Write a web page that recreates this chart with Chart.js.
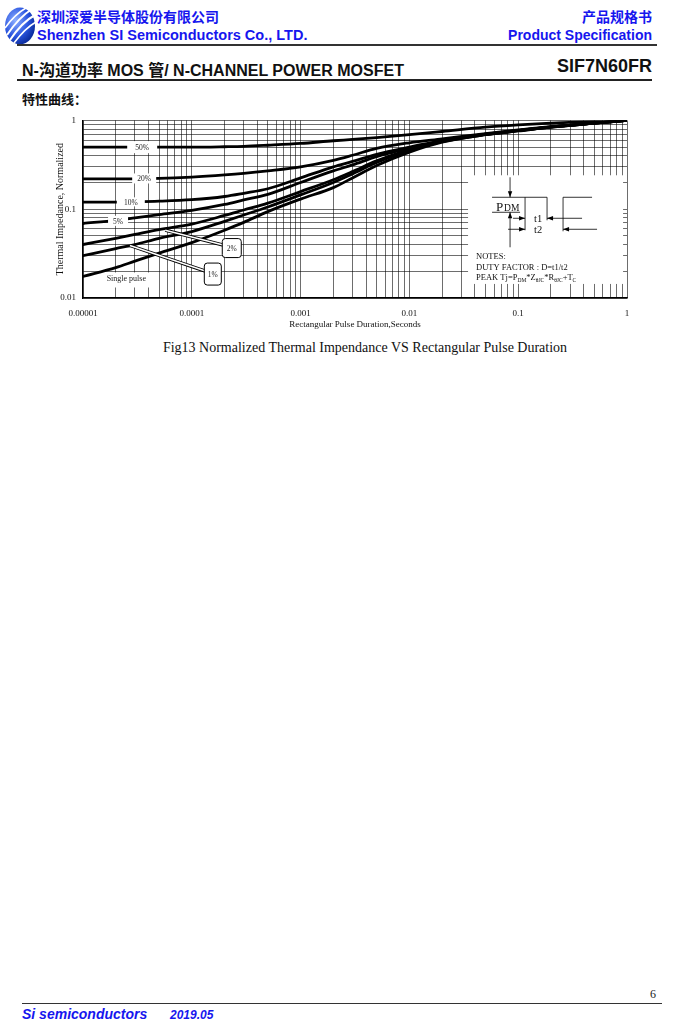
<!DOCTYPE html>
<html>
<head>
<meta charset="utf-8">
<script src="https://cdn.jsdelivr.net/npm/chart.js@4.4.1/dist/chart.umd.min.js"></script>
<style>
    body { margin: 0; width: 694px; height: 1036px; position: relative; overflow: hidden; background: #fff; font-family: "Liberation Sans", Arial, sans-serif; }
    .abs { position: absolute; white-space: nowrap; }
    .blue { color: #1616ee; font-weight: bold; }
    .cjk { font-family: "Noto Sans CJK SC", "Liberation Sans", sans-serif; }
    .mix { font-family: "Liberation Sans", "Noto Sans CJK SC", sans-serif; }
    .rule { position: absolute; background: #333; }
    #chartBox { position: absolute; left: 40px; top: 108px; width: 600px; height: 232px; }
</style>
</head>
<body>

<svg class="abs" style="left:3px;top:4px" width="34" height="42" viewBox="0 0 34 42">
    <defs>
        <radialGradient id="logoG" cx="35%" cy="35%" r="70%">
            <stop offset="0" stop-color="#8fb0ff"/>
            <stop offset="0.6" stop-color="#2a55e0"/>
            <stop offset="1" stop-color="#0a2a9a"/>
        </radialGradient>
    </defs>
    <ellipse cx="17" cy="22" rx="15" ry="18.5" fill="url(#logoG)"/>
    <path d="M4 31 C 10 22, 18 12, 29 5" stroke="#fff" stroke-width="2" fill="none"/>
    <path d="M7 36 C 13 27, 21 17, 32 11" stroke="#fff" stroke-width="2" fill="none"/>
    <path d="M11 39 C 17 31, 24 23, 33 18" stroke="#fff" stroke-width="1.6" fill="none"/>
    <path d="M2 24 C 7 17, 14 9, 23 4" stroke="#fff" stroke-width="1.6" fill="none"/>
</svg>
<div class="abs blue cjk" style="left:37px;top:6px;font-size:14px;">深圳深爱半导体股份有限公司</div>
<div class="abs blue" style="left:37px;top:27px;font-size:14.5px;">Shenzhen SI Semiconductors Co., LTD.</div>
<div class="abs blue cjk" style="right:42px;top:6px;font-size:14px;">产品规格书</div>
<div class="abs blue" style="right:42px;top:27px;font-size:14px;">Product Specification</div>
<div class="rule" style="left:17px;top:44px;width:640px;height:1.5px;"></div>

<div class="abs mix" style="left:22px;top:57px;font-size:16px;font-weight:bold;color:#111;">N-沟道功率 MOS 管/ N-CHANNEL POWER MOSFET</div>
<div class="abs" style="right:42px;top:56px;font-size:18px;font-weight:bold;color:#111;">SIF7N60FR</div>
<div class="rule" style="left:17px;top:79px;width:635px;height:2px;background:#222;"></div>

<div class="abs cjk" style="left:22px;top:89px;font-size:13px;font-weight:bold;color:#111;">特性曲线：</div>

<div id="chartBox"><canvas id="chartThermal"></canvas></div>

<div class="abs" style="left:0;width:730px;text-align:center;top:340px;font-family:'Liberation Serif',serif;font-size:14px;color:#111;">Fig13 Normalized Thermal Impendance VS Rectangular Pulse Duration</div>

<div class="abs" style="right:38px;top:987px;font-family:'Liberation Serif',serif;font-size:12px;color:#222;">6</div>
<div class="rule" style="left:22px;top:1003px;width:640px;height:1px;"></div>
<div class="abs blue" style="left:22px;top:1006px;font-size:14px;font-style:italic;">Si semiconductors</div>
<div class="abs blue" style="left:170px;top:1008px;font-size:12px;font-style:italic;">2019.05</div>

<script>
// pulse durations (s) shared by every curve
const pulseTimes = [1e-5, 2e-5, 3e-5, 5e-5, 1e-4, 2e-4, 3e-4, 5e-4, 1e-3, 2e-3, 3e-3, 5e-3, 1e-2, 2e-2, 5e-2, 1e-1, 2e-1, 5e-1, 1];

// normalized thermal impedance per duty factor
const duty50 = [0.50, 0.50, 0.50, 0.50, 0.50, 0.505, 0.51, 0.525, 0.55, 0.59, 0.61, 0.64, 0.69, 0.75, 0.84, 0.89, 0.93, 0.975, 1.0];
const duty20 = [0.22, 0.22, 0.22, 0.222, 0.23, 0.243, 0.253, 0.27, 0.30, 0.355, 0.405, 0.485, 0.56, 0.62, 0.71, 0.78, 0.85, 0.93, 1.0];
const duty10 = [0.12, 0.12, 0.121, 0.123, 0.128, 0.139, 0.151, 0.17, 0.225, 0.30, 0.345, 0.415, 0.50, 0.59, 0.70, 0.77, 0.845, 0.93, 1.0];
const duty05 = [0.069, 0.075, 0.08, 0.087, 0.097, 0.113, 0.127, 0.147, 0.20, 0.27, 0.315, 0.39, 0.485, 0.585, 0.70, 0.77, 0.845, 0.93, 1.0];
const duty02 = [0.040, 0.047, 0.052, 0.059, 0.068, 0.085, 0.098, 0.117, 0.158, 0.215, 0.265, 0.35, 0.47, 0.58, 0.695, 0.765, 0.84, 0.93, 1.0];
const duty01 = [0.030, 0.036, 0.040, 0.047, 0.056, 0.073, 0.086, 0.106, 0.145, 0.20, 0.25, 0.335, 0.455, 0.575, 0.69, 0.765, 0.84, 0.93, 1.0];
const singlePulse = [0.0175, 0.022, 0.026, 0.032, 0.042, 0.058, 0.071, 0.094, 0.13, 0.175, 0.225, 0.31, 0.44, 0.57, 0.69, 0.76, 0.84, 0.93, 1.0];

const seriesNames = ["50%", "20%", "10%", "5%", "2%", "1%", "Single pulse"];
const seriesValues = [duty50, duty20, duty10, duty05, duty02, duty01, singlePulse];

// axis ticks
const xDecades = [1e-5, 1e-4, 1e-3, 1e-2, 1e-1, 1];
const xTickLabels = ["0.00001", "0.0001", "0.001", "0.01", "0.1", "1"];
const yDecades = [0.01, 0.1, 1];
const yTickLabels = ["0.01", "0.1", "1"];

// label placements (data coordinates)
const lineTags = [
    { text: "50%", t: 3.5e-5, v: 0.5, w: 30, h: 12 },
    { text: "20%", t: 3.65e-5, v: 0.222, w: 24, h: 10 },
    { text: "10%", t: 2.75e-5, v: 0.121, w: 28, h: 9 },
    { text: "5%", t: 2.1e-5, v: 0.074, w: 20, h: 10 }
];
const callouts = [
    { text: "2%", from: { t: 5.7e-5, v: 0.058 }, box: { t: 2.33e-4, v: 0.0365 }, w: 19, h: 19 },
    { text: "1%", from: { t: 2.7e-5, v: 0.039 }, box: { t: 1.56e-4, v: 0.0186 }, w: 17, h: 22 }
];
const pulseTag = { text: "Single pulse", t: 2.5e-5, v: 0.0168, w: 52, h: 15 };
const notesPanel = { t0: 0.0346, t1: 0.92, v0: 0.241, v1: 0.0144 };

function minorGrid(decades) {
    const out = [];
    for (let i = 0; i < decades.length - 1; i++) {
        for (let m = 1; m < 10; m++) out.push(decades[i] * m);
    }
    out.push(decades[decades.length - 1]);
    return out;
}

function decadeLabel(decades, labels) {
    return v => {
        const i = decades.findIndex(d => Math.abs(v / d - 1) < 1e-6);
        return i >= 0 ? labels[i] : "";
    };
}

function seg(ctx, x1, y1, x2, y2) {
    ctx.beginPath();
    ctx.moveTo(x1, y1);
    ctx.lineTo(x2, y2);
    ctx.stroke();
}

function head(ctx, x, y, dir) {
    // dir = where the tip points
    const L = 6, W = 2.2;
    ctx.beginPath();
    ctx.moveTo(x, y);
    if (dir === "r") { ctx.lineTo(x - L, y - W); ctx.lineTo(x - L, y + W); }
    if (dir === "l") { ctx.lineTo(x + L, y - W); ctx.lineTo(x + L, y + W); }
    if (dir === "d") { ctx.lineTo(x - W, y - L); ctx.lineTo(x + W, y - L); }
    if (dir === "u") { ctx.lineTo(x - W, y + L); ctx.lineTo(x + W, y + L); }
    ctx.closePath();
    ctx.fill();
}

function runs(ctx, x, y, parts, size) {
    // parts: [text, isSub]
    let cx = x;
    for (const [txt, sub] of parts) {
        ctx.font = (sub ? size * 0.65 : size) + 'px "Liberation Serif"';
        ctx.fillText(txt, cx, sub ? y + 1.5 : y);
        cx += ctx.measureText(txt).width;
    }
}

function roundBox(ctx, x, y, w, h, r) {
    ctx.beginPath();
    ctx.moveTo(x + r, y);
    ctx.lineTo(x + w - r, y);
    ctx.quadraticCurveTo(x + w, y, x + w, y + r);
    ctx.lineTo(x + w, y + h - r);
    ctx.quadraticCurveTo(x + w, y + h, x + w - r, y + h);
    ctx.lineTo(x + r, y + h);
    ctx.quadraticCurveTo(x, y + h, x, y + h - r);
    ctx.lineTo(x, y + r);
    ctx.quadraticCurveTo(x, y, x + r, y);
    ctx.closePath();
}

const thermalNotes = {
    id: "thermalNotes",
    beforeDatasetsDraw(chart) {
        const { ctx, scales: { x, y } } = chart;
        ctx.save();
        ctx.fillStyle = "#fff";
        const nx0 = x.getPixelForValue(notesPanel.t0), nx1 = x.getPixelForValue(notesPanel.t1);
        const ny0 = y.getPixelForValue(notesPanel.v0), ny1 = y.getPixelForValue(notesPanel.v1);
        ctx.fillRect(nx0, ny0, nx1 - nx0, ny1 - ny0);
        const px = x.getPixelForValue(pulseTag.t), py = y.getPixelForValue(pulseTag.v);
        ctx.fillRect(px - pulseTag.w / 2, py - pulseTag.h / 2 + 2, pulseTag.w, pulseTag.h);
        ctx.restore();
    },
    afterDatasetsDraw(chart) {
        const { ctx, scales: { x, y } } = chart;
        ctx.save();
        ctx.textAlign = "center";
        ctx.textBaseline = "middle";

        // duty tags cutting the curves
        for (const tag of lineTags) {
            const px = x.getPixelForValue(tag.t), py = y.getPixelForValue(tag.v);
            ctx.fillStyle = "#fff";
            ctx.fillRect(px - tag.w / 2, py - tag.h / 2, tag.w, tag.h);
            ctx.fillStyle = "#222";
            ctx.font = '7.5px "Liberation Serif"';
            ctx.fillText(tag.text, px, py + 1);
        }

        // single pulse text
        {
            const px = x.getPixelForValue(pulseTag.t), py = y.getPixelForValue(pulseTag.v);
            ctx.fillStyle = "#222";
            ctx.font = '8px "Liberation Serif"';
            ctx.fillText(pulseTag.text, px, py + 1);
        }

        // 2% / 1% callouts
        for (const c of callouts) {
            const ax = x.getPixelForValue(c.from.t), ay = y.getPixelForValue(c.from.v);
            const bx = x.getPixelForValue(c.box.t), by = y.getPixelForValue(c.box.v);
            const ex = bx - c.w / 2, ey = by - 3;
            ctx.lineCap = "butt";
            ctx.strokeStyle = "#000";
            ctx.lineWidth = 3.4;
            seg(ctx, ax, ay, ex + 1, ey);
            ctx.strokeStyle = "#fff";
            ctx.lineWidth = 1.6;
            seg(ctx, ax, ay, ex + 1, ey);
            roundBox(ctx, bx - c.w / 2, by - c.h / 2, c.w, c.h, 3);
            ctx.fillStyle = "#fff";
            ctx.fill();
            ctx.strokeStyle = "#000";
            ctx.lineWidth = 1;
            ctx.stroke();
            ctx.fillStyle = "#222";
            ctx.font = '7.5px "Liberation Serif"';
            ctx.fillText(c.text, bx, by + 0.5);
        }

        // notes panel contents
        const ox = x.getPixelForValue(notesPanel.t0), oy = y.getPixelForValue(notesPanel.v0);
        ctx.strokeStyle = "#000";
        ctx.fillStyle = "#000";
        ctx.lineWidth = 0.8;
        seg(ctx, ox + 42, oy + 2, ox + 42, oy + 22);
        seg(ctx, ox + 42, oy + 37, ox + 42, oy + 72);
        head(ctx, ox + 42, oy + 22, "d");
        head(ctx, ox + 42, oy + 37, "u");
        seg(ctx, ox + 24, oy + 22, ox + 79, oy + 22);
        seg(ctx, ox + 95, oy + 22, ox + 124, oy + 22);
        seg(ctx, ox + 57, oy + 22, ox + 57, oy + 55);
        seg(ctx, ox + 79, oy + 22, ox + 79, oy + 45);
        seg(ctx, ox + 95, oy + 22, ox + 95, oy + 56);
        seg(ctx, ox + 24, oy + 37, ox + 52, oy + 37);
        seg(ctx, ox + 45, oy + 43, ox + 57, oy + 43);
        head(ctx, ox + 57, oy + 43, "r");
        seg(ctx, ox + 79, oy + 43, ox + 114, oy + 43);
        head(ctx, ox + 79, oy + 43, "l");
        seg(ctx, ox + 40, oy + 54, ox + 57, oy + 54);
        head(ctx, ox + 57, oy + 54, "r");
        seg(ctx, ox + 95, oy + 54, ox + 129, oy + 54);
        head(ctx, ox + 95, oy + 54, "l");

        ctx.textAlign = "left";
        ctx.textBaseline = "alphabetic";
        ctx.fillStyle = "#111";
        ctx.font = '13px "Liberation Serif"';
        ctx.fillText("P", ox + 28, oy + 35.5);
        ctx.font = '9.5px "Liberation Serif"';
        ctx.fillText("DM", ox + 36, oy + 35.5);
        ctx.font = '10.5px "Liberation Serif"';
        ctx.fillText("t1", ox + 66, oy + 47);
        ctx.fillText("t2", ox + 66, oy + 58);

        ctx.font = '8.5px "Liberation Serif"';
        ctx.fillText("NOTES:", ox + 8, oy + 84);
        ctx.fillText("DUTY FACTOR : D=t1/t2", ox + 8, oy + 95);
        runs(ctx, ox + 8, oy + 105, [["PEAK Tj=P", false], ["DM", true], ["*Z", false], ["θJC", true], ["*R", false], ["θJC", true], ["+T", false], ["C", true]], 8.5);
        ctx.restore();
    }
};

const datasets = seriesValues.map((vals, i) => ({
    label: seriesNames[i],
    data: pulseTimes.map((t, k) => ({ x: t, y: vals[k] })),
    borderColor: "#000",
    borderWidth: 2.8,
    pointRadius: 0,
    fill: false,
    cubicInterpolationMode: "monotone",
    borderCapStyle: "round"
}));

const serif = { family: '"Liberation Serif", "Times New Roman", serif' };

new Chart(document.getElementById("chartThermal"), {
    type: "line",
    data: { datasets },
    options: {
        responsive: true,
        maintainAspectRatio: false,
        animation: false,
        layout: { padding: { top: 12, right: 13, left: 0, bottom: 0 } },
        plugins: {
            legend: { display: false },
            tooltip: { enabled: false }
        },
        scales: {
            x: {
                type: "logarithmic",
                min: 1e-5,
                max: 1,
                afterBuildTicks: s => { s.ticks = minorGrid(xDecades).map(v => ({ value: v })); },
                afterFit: s => { s.height = 42; },
                grid: { color: "rgba(0,0,0,0.72)", lineWidth: 0.8, drawTicks: false },
                border: { color: "#000", width: 1.4 },
                ticks: {
                    autoSkip: false, maxRotation: 0, padding: 10, color: "#111",
                    font: { ...serif, size: 9 },
                    callback: decadeLabel(xDecades, xTickLabels)
                },
                title: {
                    display: true, text: "Rectangular Pulse Duration,Seconds", color: "#111",
                    font: { ...serif, size: 9 }, padding: { top: 0, bottom: 10 }
                }
            },
            y: {
                type: "logarithmic",
                min: 0.01,
                max: 1,
                afterBuildTicks: s => { s.ticks = minorGrid(yDecades).map(v => ({ value: v })); },
                afterFit: s => { s.width = 43; },
                grid: { color: "rgba(0,0,0,0.72)", lineWidth: 0.8, drawTicks: false },
                border: { color: "#000", width: 1.4 },
                ticks: {
                    autoSkip: false, padding: 7, color: "#111",
                    font: { ...serif, size: 9 },
                    callback: decadeLabel(yDecades, yTickLabels)
                },
                title: {
                    display: true, text: "Thermal Impedance, Normalized", color: "#111",
                    font: { ...serif, size: 10 }, padding: { top: 14, bottom: 0 }
                }
            }
        }
    },
    plugins: [thermalNotes]
});
</script>
</body>
</html>
